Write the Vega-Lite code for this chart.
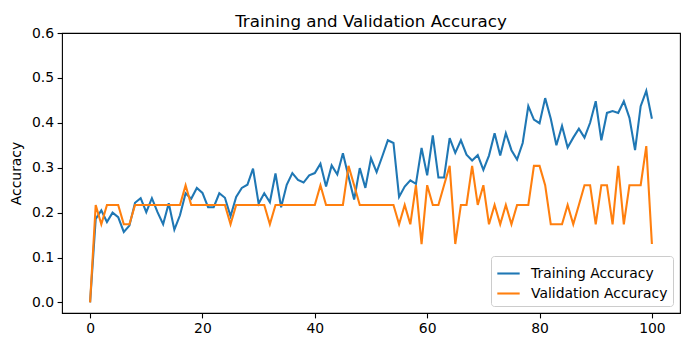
{
  "$schema": "https://vega.github.io/schema/vega-lite/v6.json",
  "width": 618,
  "height": 280,
  "autosize": {"type": "none"},
  "padding": {"left": 62, "top": 33, "right": 11, "bottom": 33},
  "background": "white",
  "config": {
    "font": "DejaVu Sans",
    "view": {"stroke": "black", "strokeWidth": 1.1},
    "axis": {
      "grid": false, "domain": false,
      "tickColor": "black", "tickSize": 4.9, "tickWidth": 1.1,
      "labelColor": "black", "labelFontSize": 13.9, "labelPadding": 3.5,
      "titleColor": "black", "titleFontSize": 13.9, "titleFontWeight": "normal"
    },
    "title": {"fontSize": 16.7, "fontWeight": "normal", "color": "black", "offset": 0, "dy": 9, "frame": "group"}
  },
  "title": {"text": "Training and Validation Accuracy", "frame": "group", "anchor": "middle"},
  "data": {"values": [
    {"epoch":0,"train":0.0,"val":0.0},{"epoch":1,"train":0.186,"val":0.217},{"epoch":2,"train":0.205,"val":0.174},{"epoch":3,"train":0.179,"val":0.217},{"epoch":4,"train":0.2,"val":0.217},
    {"epoch":5,"train":0.19,"val":0.217},{"epoch":6,"train":0.157,"val":0.174},{"epoch":7,"train":0.171,"val":0.174},{"epoch":8,"train":0.222,"val":0.217},{"epoch":9,"train":0.232,"val":0.217},
    {"epoch":10,"train":0.201,"val":0.217},{"epoch":11,"train":0.232,"val":0.217},{"epoch":12,"train":0.201,"val":0.217},{"epoch":13,"train":0.174,"val":0.217},{"epoch":14,"train":0.221,"val":0.217},
    {"epoch":15,"train":0.162,"val":0.217},{"epoch":16,"train":0.194,"val":0.217},{"epoch":17,"train":0.243,"val":0.261},{"epoch":18,"train":0.231,"val":0.217},{"epoch":19,"train":0.255,"val":0.217},
    {"epoch":20,"train":0.244,"val":0.217},{"epoch":21,"train":0.212,"val":0.217},{"epoch":22,"train":0.212,"val":0.217},{"epoch":23,"train":0.243,"val":0.217},{"epoch":24,"train":0.233,"val":0.217},
    {"epoch":25,"train":0.192,"val":0.174},{"epoch":26,"train":0.235,"val":0.217},{"epoch":27,"train":0.255,"val":0.217},{"epoch":28,"train":0.262,"val":0.217},{"epoch":29,"train":0.298,"val":0.217},
    {"epoch":30,"train":0.22,"val":0.217},{"epoch":31,"train":0.243,"val":0.217},{"epoch":32,"train":0.223,"val":0.174},{"epoch":33,"train":0.287,"val":0.217},{"epoch":34,"train":0.212,"val":0.217},
    {"epoch":35,"train":0.262,"val":0.217},{"epoch":36,"train":0.288,"val":0.217},{"epoch":37,"train":0.273,"val":0.217},{"epoch":38,"train":0.267,"val":0.217},{"epoch":39,"train":0.283,"val":0.217},
    {"epoch":40,"train":0.288,"val":0.217},{"epoch":41,"train":0.309,"val":0.261},{"epoch":42,"train":0.258,"val":0.217},{"epoch":43,"train":0.305,"val":0.217},{"epoch":44,"train":0.285,"val":0.217},
    {"epoch":45,"train":0.332,"val":0.217},{"epoch":46,"train":0.28,"val":0.304},{"epoch":47,"train":0.229,"val":0.261},{"epoch":48,"train":0.299,"val":0.217},{"epoch":49,"train":0.255,"val":0.217},
    {"epoch":50,"train":0.321,"val":0.217},{"epoch":51,"train":0.29,"val":0.217},{"epoch":52,"train":0.325,"val":0.217},{"epoch":53,"train":0.361,"val":0.217},{"epoch":54,"train":0.355,"val":0.217},
    {"epoch":55,"train":0.235,"val":0.174},{"epoch":56,"train":0.258,"val":0.217},{"epoch":57,"train":0.272,"val":0.174},{"epoch":58,"train":0.264,"val":0.261},{"epoch":59,"train":0.344,"val":0.13},
    {"epoch":60,"train":0.283,"val":0.261},{"epoch":61,"train":0.372,"val":0.217},{"epoch":62,"train":0.278,"val":0.217},{"epoch":63,"train":0.278,"val":0.261},{"epoch":64,"train":0.366,"val":0.304},
    {"epoch":65,"train":0.333,"val":0.13},{"epoch":66,"train":0.361,"val":0.217},{"epoch":67,"train":0.329,"val":0.217},{"epoch":68,"train":0.316,"val":0.304},{"epoch":69,"train":0.328,"val":0.217},
    {"epoch":70,"train":0.295,"val":0.261},{"epoch":71,"train":0.327,"val":0.174},{"epoch":72,"train":0.377,"val":0.217},{"epoch":73,"train":0.327,"val":0.174},{"epoch":74,"train":0.377,"val":0.217},
    {"epoch":75,"train":0.339,"val":0.174},{"epoch":76,"train":0.318,"val":0.217},{"epoch":77,"train":0.355,"val":0.217},{"epoch":78,"train":0.437,"val":0.217},{"epoch":79,"train":0.407,"val":0.304},
    {"epoch":80,"train":0.399,"val":0.304},{"epoch":81,"train":0.455,"val":0.261},{"epoch":82,"train":0.409,"val":0.174},{"epoch":83,"train":0.35,"val":0.174},{"epoch":84,"train":0.393,"val":0.174},
    {"epoch":85,"train":0.345,"val":0.217},{"epoch":86,"train":0.367,"val":0.174},{"epoch":87,"train":0.387,"val":0.217},{"epoch":88,"train":0.367,"val":0.261},{"epoch":89,"train":0.4,"val":0.261},
    {"epoch":90,"train":0.448,"val":0.174},{"epoch":91,"train":0.361,"val":0.261},{"epoch":92,"train":0.422,"val":0.261},{"epoch":93,"train":0.426,"val":0.174},{"epoch":94,"train":0.422,"val":0.304},
    {"epoch":95,"train":0.448,"val":0.174},{"epoch":96,"train":0.411,"val":0.261},{"epoch":97,"train":0.339,"val":0.261},{"epoch":98,"train":0.437,"val":0.261},{"epoch":99,"train":0.471,"val":0.348},
    {"epoch":100,"train":0.409,"val":0.13}
  ]},
  "transform": [{"fold": ["train", "val"], "as": ["series", "acc"]}],
  "mark": {"type": "line", "strokeWidth": 2.08, "clip": true},
  "encoding": {
    "x": {"field": "epoch", "type": "quantitative",
      "scale": {"domain": [-5, 105], "nice": false, "zero": false},
      "axis": {"values": [0, 20, 40, 60, 80, 100], "title": null}},
    "y": {"field": "acc", "type": "quantitative",
      "scale": {"domain": [-0.0236, 0.6], "nice": false, "zero": false},
      "axis": {"values": [0, 0.1, 0.2, 0.3, 0.4, 0.5, 0.6], "format": ".1f", "title": "Accuracy", "titlePadding": 8}},
    "color": {"field": "series", "type": "nominal",
      "scale": {"domain": ["train", "val"], "range": ["#1f77b4", "#ff7f0e"]},
      "legend": {
        "title": null, "orient": "bottom-right", "offset": 7,
        "labelExpr": "datum.value == 'train' ? 'Training Accuracy' : 'Validation Accuracy'",
        "symbolType": "stroke", "symbolSize": 500, "symbolStrokeWidth": 2.08,
        "labelFontSize": 13.9, "labelColor": "black", "labelOffset": 10,
        "padding": 5, "rowPadding": 0,
        "strokeColor": "#cccccc", "fillColor": "rgba(255,255,255,0.8)", "cornerRadius": 3
      }}
  }
}
